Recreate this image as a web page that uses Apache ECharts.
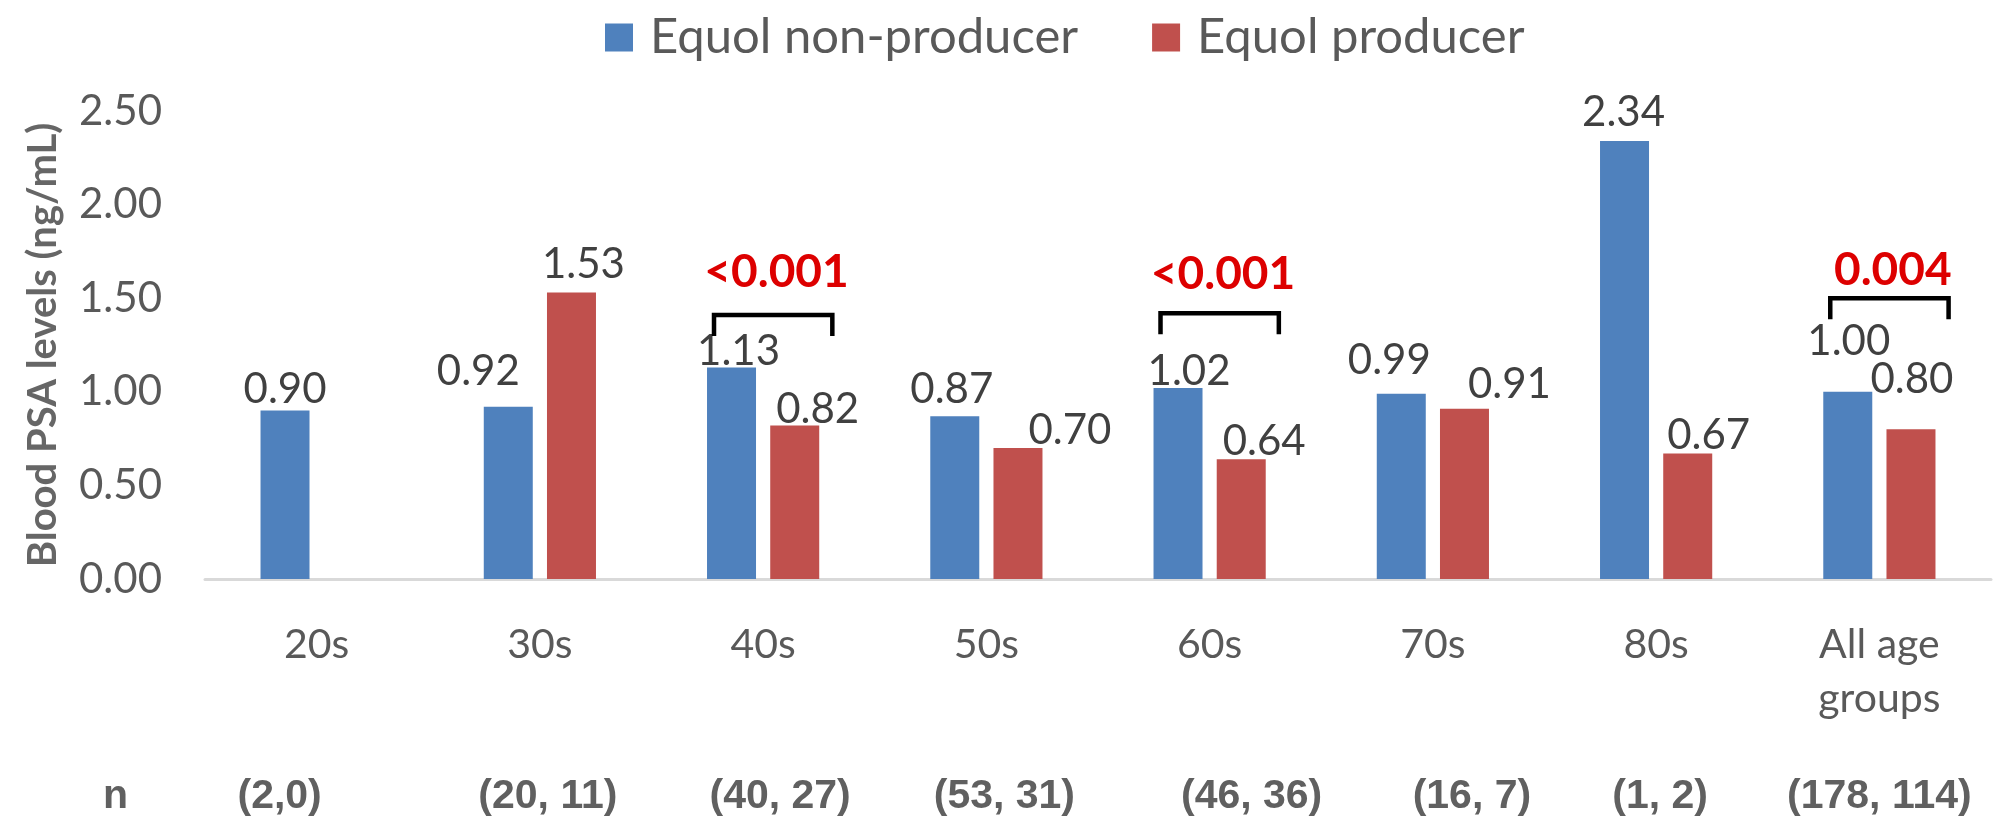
<!DOCTYPE html>
<html><head><meta charset="utf-8">
<script src="https://cdn.jsdelivr.net/npm/echarts@6/dist/echarts.min.js"></script>
<style>html,body{margin:0;padding:0;background:#fff}#c{width:2007px;height:826px}</style>
</head><body><div id="c"></div>
<script>
const categories = ['20s', '30s', '40s', '50s', '60s', '70s', '80s', 'All age\ngroups'];
const nonProducer = [0.90, 0.92, 1.13, 0.87, 1.02, 0.99, 2.34, 1.00];
const producer = [null, 1.53, 0.82, 0.70, 0.64, 0.91, 0.67, 0.80];
const sampleSizes = ['(2,0)', '(20, 11)', '(40, 27)', '(53, 31)', '(46, 36)', '(16, 7)', '(1, 2)', '(178, 114)'];
const seriesNames = ['Equol non-producer', 'Equol producer'];
const bracketCats = ['40s', '60s', 'All age\ngroups'];
const bracketLevels = [1.41, 1.42, 1.50];
const pTextLevels = [1.64, 1.63, 1.65];
const pValues = ['<0.001', '<0.001', '0.004'];
// manual nudges of the value labels / n labels (as placed in the source figure)
const blueLabelShift = [[0, 5], [-30, -9], [7, 10], [-3, -1], [11, 9], [-12, -7], [-1, -2], [1, -24]];
const redLabelShift = [[0, 0], [12, -2], [23, 10], [52, 8], [23, 8], [45, 2], [21, 8], [1, -24]];
const nShift = [-37, 8, 17, 18, 42, 39, 4, 0];

const FONT = 'Lato';
const chart = echarts.init(document.getElementById('c'), null, {renderer: 'canvas'});

const mk = (vals, shifts) => vals.map((v, i) => ({value: v, label: {offset: shifts[i]}}));

const labelCfg = {
  show: true, position: 'top', distance: 5, fontFamily: FONT, fontSize: 42, color: '#404040',
  formatter: p => (p.value == null ? '' : Number(p.value).toFixed(2))
};

const nRich = {};
nShift.forEach((s, i) => {
  nRich['s' + i] = {
    fontFamily: 'Liberation Sans', fontSize: 41, fontWeight: 'bold', color: '#606060',
    padding: [0, s < 0 ? -2 * s : 0, 0, s > 0 ? 2 * s : 0]
  };
});

chart.setOption({
  animation: false,
  backgroundColor: '#fff',
  textStyle: {fontFamily: FONT},
  legend: {
    data: seriesNames, left: 600, top: 8, icon: 'rect', itemWidth: 28, itemHeight: 28, itemGap: 74,
    textStyle: {fontFamily: FONT, fontSize: 49, color: '#595959', padding: [0, 0, 0, 12]}
  },
  grid: {left: 205, right: 16, top: 111, bottom: 247, containLabel: false, outerBoundsMode: 'none'},
  xAxis: [{
    type: 'category', data: categories,
    axisLine: {lineStyle: {color: '#d9d9d9', width: 3}},
    axisTick: {show: false},
    axisLabel: {interval: 0, fontFamily: FONT, fontSize: 41, color: '#595959', margin: 39, lineHeight: 54}
  }, {
    type: 'category', data: sampleSizes, position: 'bottom', offset: 218,
    axisLine: {show: false}, axisTick: {show: false},
    axisLabel: {
      interval: 0, margin: 0, verticalAlign: 'middle',
      formatter: (v, i) => '{s' + i + '|' + v + '}', rich: nRich
    },
    name: 'n', nameLocation: 'start', nameGap: 77,
    nameTextStyle: {fontFamily: 'Liberation Sans', fontSize: 41, fontWeight: 'bold', color: '#606060'}
  }],
  yAxis: {
    type: 'value', min: 0, max: 2.5, interval: 0.5,
    axisLine: {show: false}, axisTick: {show: false}, splitLine: {show: false},
    axisLabel: {formatter: v => v.toFixed(2), fontFamily: FONT, fontSize: 42, color: '#595959', margin: 43},
    name: 'Blood PSA levels (ng/mL)', nameLocation: 'middle', nameGap: 142,
    nameTextStyle: {fontFamily: FONT, fontSize: 40, fontWeight: 'bold', color: '#666666'}
  },
  series: [{
    name: seriesNames[0], type: 'bar', barWidth: 49, barGap: '29%',
    itemStyle: {color: '#4f81bd'}, label: labelCfg,
    data: mk(nonProducer, blueLabelShift)
  }, {
    name: seriesNames[1], type: 'bar', barWidth: 49, barGap: '29%',
    itemStyle: {color: '#c0504d'}, label: labelCfg,
    data: mk(producer, redLabelShift)
  }, {
    type: 'custom', name: 'significance', z: 10,
    data: bracketCats.map((c, i) => [c, bracketLevels[i], pTextLevels[i]]),
    encode: {x: 0, y: 1},
    renderItem: (params, api) => {
      const i = params.dataIndex;
      const top = api.coord([api.value(0), api.value(1)]);
      const tp = api.coord([api.value(0), api.value(2)]);
      const band = api.size([1, 0])[0];
      const x1 = top[0] - band * 0.22, x2 = top[0] + band * 0.31, leg = 21;
      return {
        type: 'group', children: [{
          type: 'polyline',
          shape: {points: [[x1, top[1] + leg], [x1, top[1]], [x2, top[1]], [x2, top[1] + leg]]},
          style: {stroke: '#000', lineWidth: 4.5, fill: 'none'}
        }, {
          type: 'text', x: top[0] + band * 0.06, y: tp[1],
          style: {text: pValues[i], fill: '#dd0000', font: 'bold 46px ' + FONT, align: 'center', verticalAlign: 'middle'}
        }]
      };
    }
  }]
});
</script></body></html>
